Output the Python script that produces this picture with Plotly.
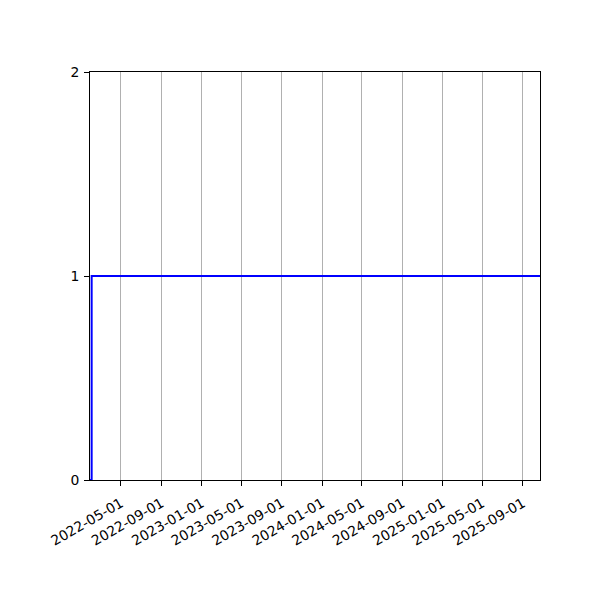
import plotly.graph_objects as go

# step series: value switches from 0 to 1 near the start of the range
dates = ["2022-01-27", "2022-02-01", "2025-10-23"]
values = [0, 1, 1]

x_range = ["2022-01-27", "2025-10-23"]
tick_dates = ["2022-05-01", "2022-09-01", "2023-01-01", "2023-05-01",
              "2023-09-01", "2024-01-01", "2024-05-01", "2024-09-01",
              "2025-01-01", "2025-05-01", "2025-09-01"]
y_ticks = [0, 1, 2]

fig = go.Figure()
fig.add_trace(go.Scatter(x=dates, y=values, mode="lines", line_shape="hv",
                         line=dict(color="blue", width=2)))

fig.update_layout(
    width=600, height=600,
    margin=dict(l=82, r=68, t=64, b=128),
    paper_bgcolor="white", plot_bgcolor="white",
    showlegend=False,
    font=dict(family="DejaVu Sans", size=13.9, color="black"),
)
fig.update_xaxes(
    type="date", range=x_range,
    tickvals=tick_dates, ticktext=tick_dates, tickangle=-30,
    showgrid=True, gridcolor="#b0b0b0", gridwidth=1,
    showline=True, linecolor="black", linewidth=1, mirror=True,
    ticks="outside", ticklen=5, tickcolor="black", zeroline=False,
    ticklabelstandoff=4,
)
fig.update_yaxes(
    range=[0, 2], tickvals=y_ticks,
    showgrid=False,
    showline=True, linecolor="black", linewidth=1, mirror=True,
    ticks="outside", ticklen=5, tickcolor="black", zeroline=False,
    ticklabelstandoff=2,
)

fig.write_html("out.html")
